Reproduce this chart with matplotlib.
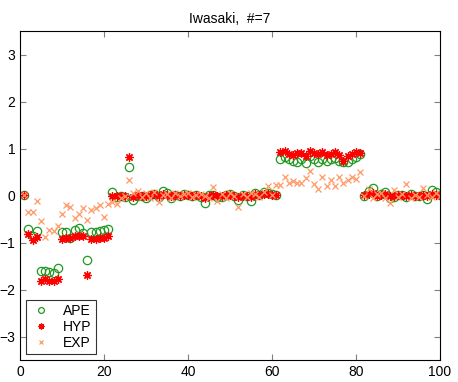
import numpy as np
import matplotlib
matplotlib.use('Agg')
import matplotlib.pyplot as plt

plt.rcParams['font.family'] = ['Liberation Sans', 'DejaVu Sans']

# sample index 1..100
idx = np.arange(1, 101)

ape = [0.02, -0.72, -0.87, -0.76, -1.61, -1.61, -1.62, -1.64, -1.55, -0.78,
       -0.78, -0.90, -0.73, -0.69, -0.80, -1.38, -0.78, -0.78, -0.76, -0.74,
       -0.72, 0.07, -0.03, -0.02, -0.03, 0.60, -0.10, 0.00, -0.02, -0.05,
       0.01, 0.03, -0.03, 0.10, 0.05, -0.05, 0.02, -0.01, 0.03, 0.01,
       -0.02, 0.02, -0.03, -0.15, 0.01, 0.02, -0.03, -0.04, 0.01, 0.03,
       -0.02, -0.10, 0.01, -0.02, -0.12, 0.06, 0.02, 0.07, 0.05, 0.04,
       0.02, 0.78, 0.82, 0.78, 0.74, 0.72, 0.77, 0.70, 0.84, 0.78,
       0.71, 0.77, 0.73, 0.78, 0.80, 0.73, 0.71, 0.72, 0.78, 0.83,
       0.88, 0.00, 0.10, 0.17, -0.02, 0.03, 0.08, -0.05, -0.03, 0.01,
       0.02, -0.04, 0.03, 0.00, -0.02, 0.02, -0.07, 0.11, 0.07, 0.02]

hyp = [0.02, -0.82, -0.94, -0.89, -1.82, -1.78, -1.81, -1.81, -1.78, -0.92,
       -0.90, -0.90, -0.87, -0.87, -0.87, -1.70, -0.92, -0.92, -0.91, -0.90,
       -0.87, -0.02, 0.00, 0.00, -0.01, 0.83, -0.03, 0.02, 0.00, -0.02,
       0.01, 0.03, -0.01, 0.04, 0.02, -0.02, 0.01, 0.00, 0.02, 0.01,
       -0.01, 0.01, -0.02, -0.06, 0.00, 0.02, -0.01, -0.02, 0.01, 0.02,
       -0.01, -0.03, 0.00, -0.01, -0.04, 0.03, 0.02, 0.04, 0.03, 0.02,
       0.01, 0.92, 0.94, 0.89, 0.87, 0.90, 0.90, 0.85, 0.94, 0.90,
       0.89, 0.92, 0.87, 0.89, 0.92, 0.87, 0.73, 0.85, 0.89, 0.92,
       0.90, 0.01, 0.04, 0.05, 0.00, 0.01, 0.03, -0.02, 0.00, 0.01,
       0.02, -0.01, 0.01, 0.00, -0.01, 0.01, -0.02, 0.03, 0.02, 0.01]

exp_ = [0.02, -0.34, -0.34, -0.12, -0.55, -0.89, -0.74, -0.76, -0.65, -0.39,
        -0.21, -0.24, -0.47, -0.40, -0.27, -0.51, -0.31, -0.27, -0.20, -0.46,
        -0.18, -0.14, -0.19, -0.06, 0.00, 0.34, 0.05, 0.10, -0.03, 0.06,
        -0.05, 0.07, -0.14, 0.02, 0.04, -0.06, 0.05, -0.02, 0.03, 0.06,
        -0.04, 0.02, 0.04, -0.02, -0.05, 0.19, -0.12, 0.03, -0.05, 0.06,
        -0.02, -0.25, 0.04, -0.03, 0.05, 0.03, -0.04, 0.08, 0.21, 0.02,
        0.23, 0.23, 0.39, 0.26, 0.32, 0.26, 0.26, 0.38, 0.52, 0.25,
        0.14, 0.40, 0.21, 0.33, 0.21, 0.39, 0.26, 0.33, 0.40, 0.35,
        0.50, 0.00, 0.14, -0.05, 0.03, 0.05, -0.06, -0.16, 0.12, -0.03,
        0.04, 0.25, -0.06, 0.02, -0.04, 0.16, 0.01, -0.03, 0.05, -0.01]

green = (0.13, 0.6, 0.13)
orange = (1.0, 0.6, 0.4)

fig = plt.figure(figsize=(4.58, 3.82), dpi=100)
ax = fig.add_axes([0.0437, 0.0576, 0.917, 0.861])

ax.plot(idx, ape, 'o', mfc='none', mec=green, ms=6, mew=0.9, label='APE')
# matlab style asterisk (+ and x on top of each other)
ax.plot(idx, hyp, marker=(8, 2, 0), ls='none', color='red', ms=6, mew=0.9,
        label='HYP')
ax.plot(idx, exp_, 'x', color=orange, ms=4.5, mew=0.9, label='EXP')

ax.set_xlim(0, 100)
ax.set_ylim(-3.5, 3.5)
ax.set_xticks([0, 20, 40, 60, 80, 100])
ax.set_yticks([-3, -2, -1, 0, 1, 2, 3])
ax.tick_params(direction='in', top=True, right=True, labelsize=10,
               length=4, color='0.5')
for s in ax.spines.values():
    s.set_linewidth(0.8)
ax.set_title('Iwasaki,  #=7', fontsize=10)

leg = ax.legend(loc='lower left', fontsize=10, numpoints=1, markerscale=0.7,
                fancybox=False, edgecolor='black', borderpad=0.3,
                handlelength=1.6, labelspacing=0.15, borderaxespad=0.4)
leg.get_frame().set_linewidth(0.8)

fig.savefig('out.png', dpi=100)
